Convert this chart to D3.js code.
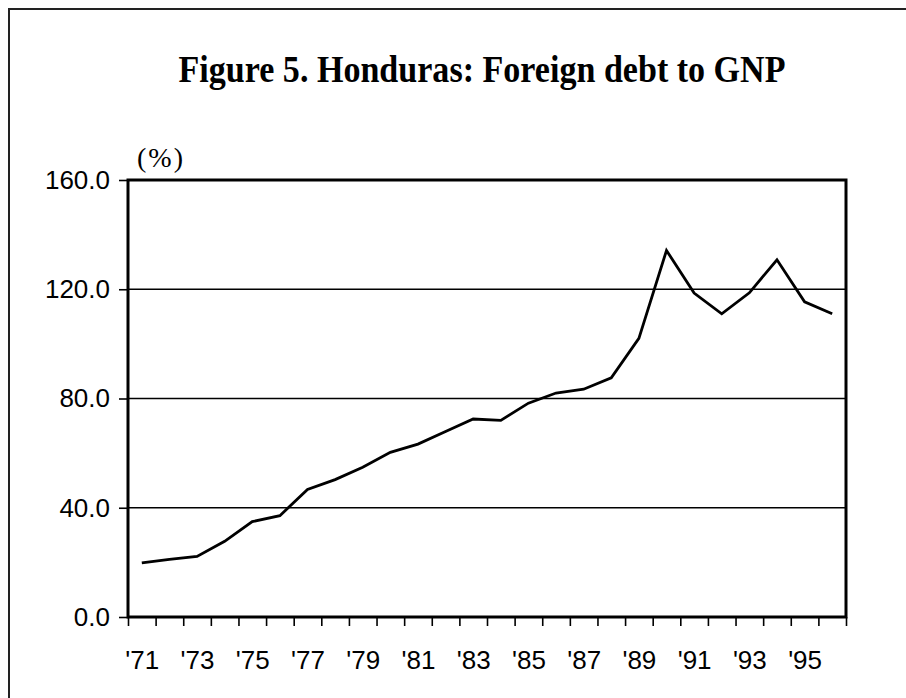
<!DOCTYPE html>
<html>
<head>
<meta charset="utf-8">
<script src="https://cdn.jsdelivr.net/npm/d3@7"></script>
<style>
  html, body { margin: 0; padding: 0; background: #fff; }
  svg { display: block; }
</style>
</head>
<body>
<svg id="chart" width="906" height="698"></svg>
<script>
const years = [1971, 1972, 1973, 1974, 1975, 1976, 1977, 1978, 1979, 1980, 1981, 1982, 1983,
               1984, 1985, 1986, 1987, 1988, 1989, 1990, 1991, 1992, 1993, 1994, 1995, 1996];
const debtToGnp = [19.8, 21.1, 22.2, 27.7, 34.9, 37.1, 46.7, 50.3, 54.8, 60.3, 63.3, 67.9, 72.5,
                   72.0, 78.3, 82.0, 83.4, 87.6, 102.0, 134.2, 118.6, 111.0, 118.7, 130.8, 115.4, 111.0];
const yTicks = [0, 40, 80, 120, 160];
const gridValues = [40, 80, 120];
const labelYears = [1971, 1973, 1975, 1977, 1979, 1981, 1983, 1985, 1987, 1989, 1991, 1993, 1995];

const svg = d3.select("#chart");
const plotLeft = 128, plotRight = 846, plotTop = 180, plotBottom = 617;
const sans = "'Liberation Sans', Arial, sans-serif";
const serif = "'Liberation Serif', 'Times New Roman', serif";

// outer frame, runs off the right/bottom edge like the source
svg.append("rect")
    .attr("x", 9).attr("y", 9)
    .attr("width", 1000).attr("height", 1000)
    .attr("fill", "none").attr("stroke", "#222").attr("stroke-width", 2);

svg.append("text")
    .attr("x", 482).attr("y", 82)
    .attr("text-anchor", "middle")
    .attr("font-family", serif)
    .attr("font-weight", "bold")
    .attr("font-size", 37)
    .attr("textLength", 607)
    .attr("lengthAdjust", "spacingAndGlyphs")
    .text("Figure 5. Honduras: Foreign debt to GNP");

const x = d3.scaleLinear().domain([years[0] - 0.5, years[years.length - 1] + 0.5]).range([plotLeft, plotRight]);
const y = d3.scaleLinear().domain([0, 160]).range([plotBottom, plotTop]);

const boundaries = d3.range(years[0] - 0.5, years[years.length - 1] + 1, 1);

// gridlines
svg.append("g").selectAll("line").data(gridValues).enter().append("line")
    .attr("x1", plotLeft).attr("x2", plotRight)
    .attr("y1", d => y(d)).attr("y2", d => y(d))
    .attr("stroke", "#000").attr("stroke-width", 1.6);

// plot box
svg.append("rect")
    .attr("x", plotLeft).attr("y", plotTop)
    .attr("width", plotRight - plotLeft).attr("height", plotBottom - plotTop)
    .attr("fill", "none").attr("stroke", "#000").attr("stroke-width", 3);

const yAxis = svg.append("g")
    .attr("transform", `translate(${plotLeft},0)`)
    .call(d3.axisLeft(y).tickValues(yTicks).tickSize(9).tickPadding(9).tickFormat(d3.format(".1f")));
yAxis.select(".domain").remove();
yAxis.selectAll("line").attr("stroke", "#000").attr("stroke-width", 1.6);
yAxis.selectAll("text")
    .attr("font-family", sans)
    .attr("font-size", 26).attr("fill", "#000");

const xTicks = svg.append("g")
    .attr("transform", `translate(0,${plotBottom})`)
    .call(d3.axisBottom(x).tickValues(boundaries).tickSize(9).tickFormat(""));
xTicks.select(".domain").remove();
xTicks.selectAll("line").attr("stroke", "#000").attr("stroke-width", 1.6);

const xLabels = svg.append("g")
    .attr("transform", `translate(0,${plotBottom})`)
    .call(d3.axisBottom(x).tickValues(labelYears).tickSize(0).tickPadding(34)
        .tickFormat(d => "'" + String(d).slice(2)));
xLabels.select(".domain").remove();
xLabels.selectAll("text")
    .attr("font-family", sans)
    .attr("font-size", 26).attr("fill", "#000");

svg.append("text")
    .attr("x", 137).attr("y", 167)
    .attr("font-family", serif)
    .attr("font-size", 28)
    .attr("letter-spacing", 2)
    .text("(%)");

const line = d3.line()
    .x((d, i) => x(years[i]))
    .y(d => y(d));

svg.append("path")
    .datum(debtToGnp)
    .attr("d", line)
    .attr("fill", "none")
    .attr("stroke", "#000")
    .attr("stroke-width", 2.8)
    .attr("stroke-linejoin", "miter");
</script>
</body>
</html>
